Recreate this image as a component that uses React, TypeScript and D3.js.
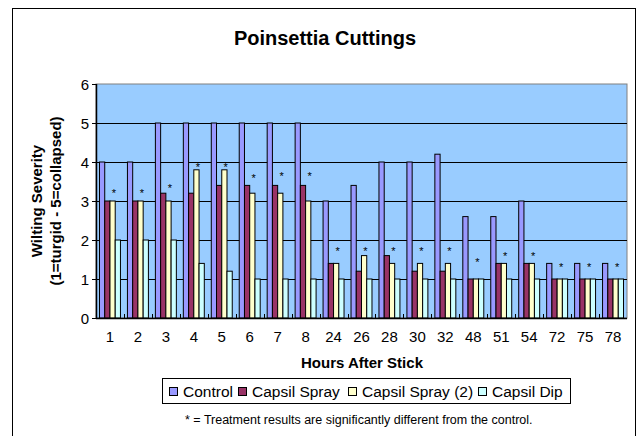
import React from 'react';
import * as d3 from 'd3';

const hours = ['1','2','3','4','5','6','7','8','24','26','28','30','32','48','51','54','72','75','78'];
const seriesNames = ['Control', 'Capsil Spray', 'Capsil Spray (2)', 'Capsil Dip'];
const control = [4,4,5,5,5,5,5,5,3,3.4,4,4,4.2,2.6,2.6,3,1.4,1.4,1.4];
const capsilSpray = [3,3,3.2,3.2,3.4,3.4,3.4,3.4,1.4,1.2,1.6,1.2,1.2,1,1.4,1.4,1,1,1];
const capsilSpray2 = [3,3,3,3.8,3.8,3.2,3.2,3,1.4,1.6,1.4,1.4,1.4,1,1.4,1.4,1,1,1];
const capsilDip = [2,2,2,1.4,1.2,1,1,1,1,1,1,1,1,1,1,1,1,1,1];
const starLevels = [3.26,3.26,3.38,3.92,3.92,3.64,3.68,3.68,1.76,1.76,1.76,1.76,1.76,1.48,1.64,1.64,1.36,1.36,1.36];
const yTicks = [0,1,2,3,4,5,6];

const colors = ['#9999FF', '#993366', '#FFFFCC', '#CCFFFF'];
const FONT = '"Liberation Sans", Arial, sans-serif';

export default function App() {
  const W = 637, H = 436;
  const left = 96, right = 627, top = 84, bottom = 318;
  const series = [control, capsilSpray, capsilSpray2, capsilDip];

  const x = d3.scaleBand<string>().domain(hours).range([left, right]).paddingInner(0.25).paddingOuter(0.125);
  const xc = d3.scaleBand<string>().domain(hours).range([left, right]);
  const inner = d3.scaleBand<number>().domain([0,1,2,3]).range([0, x.bandwidth()]);
  const y = d3.scaleLinear().domain([0, 6]).range([bottom, top]);

  const legendText = [183, 252, 362, 492];

  return (
    <svg width={W} height={H} style={{ position: 'absolute', left: 0, top: 0, background: '#fff' }} fontFamily={FONT}>
      <rect x={12.5} y={8.5} width={623} height={440} fill="#fff" stroke="#000" strokeWidth={1} />
      <text x={325} y={45} textAnchor="middle" fontSize={20} fontWeight="bold">Poinsettia Cuttings</text>

      <rect x={left} y={top} width={right - left} height={bottom - top} fill="#99CCFF" stroke="#808080" strokeWidth={1} />
      {yTicks.map(t => (
        <g key={t}>
          {t > 0 && t < 6 && <line x1={left} x2={right} y1={Math.round(y(t)) + 0.5} y2={Math.round(y(t)) + 0.5} stroke="#000" strokeWidth={1} />}
          <line x1={left - 4} x2={left} y1={Math.round(y(t)) + 0.5} y2={Math.round(y(t)) + 0.5} stroke="#000" />
          <text x={89} y={y(t) + 5.5} textAnchor="end" fontSize={15}>{t}</text>
        </g>
      ))}

      {hours.map((h, i) => (
        <g key={h}>
          {series.map((s, k) => {
            const bx = (x(h) as number) + (inner(k) as number);
            return (
              <rect key={k} x={bx} y={y(s[i])} width={inner.bandwidth()} height={bottom - y(s[i])}
                fill={colors[k]} stroke="#000" strokeWidth={1} />
            );
          })}
          <text x={(x(h) as number) + x.bandwidth() / 2 + 4} y={y(starLevels[i]) + 6} textAnchor="middle" fontSize={11}>*</text>
          <text x={(xc(h) as number) + xc.bandwidth() / 2} y={342} textAnchor="middle" fontSize={15}>{h}</text>
          {i > 0 && <line x1={Math.round(xc(h) as number) + 0.5} x2={Math.round(xc(h) as number) + 0.5} y1={bottom - 4} y2={bottom} stroke="#000" />}
        </g>
      ))}
      <line x1={left + 0.5} x2={left + 0.5} y1={top} y2={bottom} stroke="#000" strokeWidth={1.5} />
      <line x1={left} x2={right} y1={bottom + 0.5} y2={bottom + 0.5} stroke="#000" strokeWidth={1.5} />

      <g transform="translate(42,201) rotate(-90)">
        <text x={0} y={0} textAnchor="middle" fontSize={15} fontWeight="bold">Wilting Severity</text>
        <text x={0} y={19} textAnchor="middle" fontSize={15} fontWeight="bold">(1=turgid - 5=collapsed)</text>
      </g>

      <text x={362} y={368} textAnchor="middle" fontSize={15} fontWeight="bold">Hours After Stick</text>

      <rect x={162.5} y={378.5} width={408} height={25} fill="#fff" stroke="#000" strokeWidth={1} />
      {seriesNames.map((n, k) => (
        <g key={n}>
          <rect x={legendText[k] - 13.5} y={387.5} width={8} height={8} fill={colors[k]} stroke="#000" />
          <text x={legendText[k]} y={397} fontSize={15.5}>{n}</text>
        </g>
      ))}

      <text x={185} y={424} fontSize={12.5}>* = Treatment results are significantly different from the control.</text>
    </svg>
  );
}
